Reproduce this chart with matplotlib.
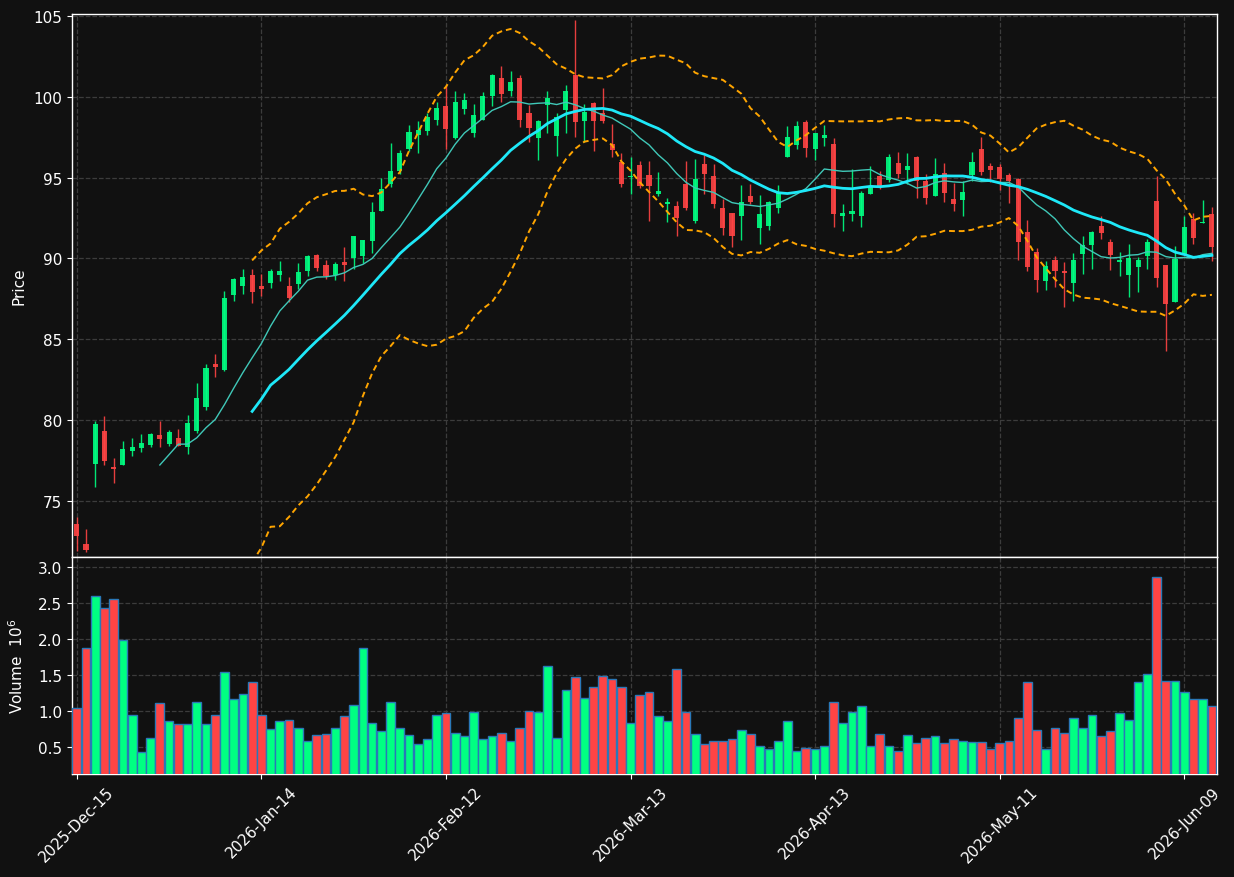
import matplotlib
matplotlib.use('Agg')
import matplotlib.pyplot as plt
import numpy as np
import pandas as pd

# ---------------- data ----------------
opens = [73.58, 72.35, 77.3, 79.34, 77.1, 77.25, 78.1, 78.29, 78.47, 79.09,
         78.53, 78.9, 78.36, 79.34, 80.84, 83.48, 83.11, 87.75, 88.32, 88.98,
         88.3, 88.51, 89.0, 88.3, 88.44, 89.23, 90.22, 89.6, 88.98, 89.79,
         90.03, 90.18, 91.1, 92.96, 94.61, 95.43, 96.78, 97.66, 97.91, 98.59,
         99.43, 97.45, 99.25, 97.76, 98.57, 100.05, 101.17, 100.38, 101.17, 99.0,
         97.45, 99.5, 97.58, 99.19, 101.35, 98.51, 99.62, 99.0, 97.08, 95.97,
         95.05, 95.79, 95.17, 93.99, 93.4, 93.25, 94.61, 92.3, 95.85, 95.1,
         93.13, 92.8, 92.63, 93.87, 91.89, 92.01, 93.13, 96.28, 97.02, 98.44,
         96.77, 97.45, 97.08, 92.63, 92.76, 92.63, 93.99, 95.1, 94.86, 95.91,
         95.48, 96.28, 94.8, 93.87, 95.29, 93.68, 93.62, 95.17, 96.77, 95.72,
         95.66, 95.17, 94.92, 91.62, 90.41, 88.63, 89.91, 89.23, 88.51, 90.28,
         90.84, 92.01, 91.02, 89.79, 89.0, 89.5, 90.18, 93.56, 89.6, 87.33,
         90.28, 92.47, 92.2, 92.76]

closes = [72.86, 72.0, 79.77, 77.5, 77.0, 78.22, 78.35, 78.6, 79.15, 78.86,
          79.27, 78.43, 79.85, 81.38, 83.23, 83.31, 87.56, 88.74, 88.86, 87.95,
          88.1, 89.23, 89.23, 87.58, 89.19, 90.16, 89.44, 88.94, 89.66, 89.62,
          91.39, 91.15, 92.88, 94.32, 95.43, 96.55, 97.83, 97.95, 98.74, 99.29,
          98.01, 99.68, 99.8, 98.88, 100.05, 101.35, 100.18, 100.92, 98.57, 98.07,
          98.51, 99.93, 98.75, 100.36, 98.44, 99.06, 98.51, 98.51, 96.71, 94.61,
          95.12, 94.49, 94.49, 94.18, 93.45, 92.51, 93.11, 94.92, 95.23, 93.37,
          91.89, 91.39, 93.5, 93.5, 92.76, 93.5, 94.12, 97.52, 98.2, 96.84,
          97.76, 97.64, 92.76, 92.82, 92.94, 94.05, 94.49, 94.49, 96.28, 95.23,
          95.72, 94.78, 93.74, 95.23, 94.05, 93.37, 94.12, 95.97, 95.35, 95.48,
          94.92, 94.8, 91.04, 89.5, 88.7, 89.54, 89.25, 89.11, 89.91, 90.84,
          91.64, 91.58, 90.22, 89.91, 90.03, 89.91, 91.02, 88.82, 87.21, 89.97,
          91.95, 91.29, 92.26, 90.73]

highs = [74.0, 73.3, 79.95, 80.25, 77.65, 78.7, 78.9, 79.13, 79.23, 79.93,
         79.4, 79.46, 80.3, 82.28, 83.48, 84.1, 88.0, 88.8, 89.35, 89.35,
         89.05, 89.35, 89.83, 88.85, 89.7, 90.2, 90.25, 89.9, 89.8, 90.7,
         91.4, 91.16, 93.5, 95.0, 97.13, 96.7, 98.26, 98.52, 98.98, 99.66,
         100.7, 100.35, 100.26, 99.56, 100.28, 101.41, 101.9, 101.58, 101.35, 99.52,
         98.57, 100.38, 99.0, 100.71, 104.75, 99.56, 99.65, 100.55, 98.32, 96.5,
         96.3, 96.03, 96.03, 95.33, 93.74, 93.56, 96.03, 96.14, 96.4, 95.83,
         93.68, 92.82, 94.55, 94.61, 93.93, 93.58, 94.55, 98.2, 98.51, 98.57,
         97.78, 98.26, 97.45, 93.37, 95.54, 94.2, 95.72, 95.43, 96.47, 96.59,
         96.53, 96.34, 95.23, 96.22, 95.91, 94.67, 94.82, 96.59, 97.52, 95.91,
         95.85, 95.29, 94.95, 92.4, 90.65, 89.85, 90.16, 89.79, 90.34, 91.39,
         91.7, 92.63, 91.21, 90.41, 90.9, 90.08, 91.21, 95.1, 89.62, 90.76,
         92.63, 92.84, 93.62, 93.17]

lows = [71.9, 71.85, 75.85, 77.2, 76.1, 77.25, 77.8, 78.06, 78.36, 78.36,
        78.41, 78.4, 77.9, 79.2, 80.6, 82.7, 83.05, 87.4, 87.8, 87.23,
        87.65, 88.15, 88.6, 87.3, 88.1, 88.9, 89.2, 88.74, 88.7, 88.63,
        89.35, 89.7, 90.35, 92.95, 94.4, 95.2, 96.67, 96.53, 97.62, 98.24,
        96.77, 97.4, 98.94, 97.54, 98.55, 99.45, 99.66, 100.07, 98.12, 97.19,
        96.11, 97.76, 96.36, 97.76, 97.54, 97.2, 96.63, 98.38, 96.3, 94.4,
        93.97, 94.38, 92.3, 93.88, 92.24, 91.41, 93.0, 92.18, 93.99, 93.13,
        91.48, 90.73, 91.15, 93.37, 90.9, 91.77, 92.84, 96.28, 96.79, 96.3,
        96.09, 96.98, 91.93, 91.72, 92.34, 91.97, 93.98, 94.3, 94.73, 94.98,
        94.61, 93.73, 93.37, 93.85, 93.52, 92.96, 92.61, 94.8, 95.17, 94.73,
        94.24, 93.42, 89.9, 89.25, 87.95, 88.07, 88.22, 86.99, 87.39, 89.04,
        89.35, 91.21, 89.29, 88.94, 87.6, 87.91, 89.35, 88.26, 84.3, 87.3,
        90.25, 90.9, 92.18, 89.87]

volumes_m = [1.04, 1.88, 2.60, 2.43, 2.55, 1.98, 0.95, 0.43, 0.62, 1.11,
             0.86, 0.82, 0.82, 1.12, 0.82, 0.94, 1.54, 1.16, 1.23, 1.40,
             0.95, 0.745, 0.86, 0.87, 0.76, 0.59, 0.66, 0.68, 0.76, 0.93,
             1.09, 1.88, 0.83, 0.72, 1.13, 0.76, 0.66, 0.54, 0.61, 0.94,
             0.97, 0.69, 0.65, 0.98, 0.61, 0.65, 0.70, 0.58, 0.77, 1.0,
             0.98, 1.62, 0.63, 1.29, 1.47, 1.18, 1.34, 1.48, 1.45, 1.33,
             0.83, 1.22, 1.26, 0.93, 0.86, 1.59, 0.98, 0.68, 0.54, 0.59,
             0.58, 0.61, 0.73, 0.68, 0.51, 0.47, 0.58, 0.86, 0.44, 0.48,
             0.47, 0.51, 1.13, 0.83, 0.98, 1.07, 0.51, 0.68, 0.52, 0.44,
             0.66, 0.55, 0.62, 0.65, 0.55, 0.61, 0.59, 0.57, 0.57, 0.47,
             0.55, 0.58, 0.90, 1.40, 0.74, 0.47, 0.76, 0.69, 0.90, 0.76,
             0.95, 0.65, 0.72, 0.97, 0.88, 1.40, 1.51, 2.86, 1.41, 1.41,
             1.26, 1.16, 1.16, 1.07]

tick_positions = [0, 20, 40, 60, 80, 100, 120]
tick_labels = ['2025-Dec-15', '2026-Jan-14', '2026-Feb-12', '2026-Mar-13',
               '2026-Apr-13', '2026-May-11', '2026-Jun-09']

# ---------------- style ----------------
BG = '#111111'
UP = '#00ff82'
DOWN = '#ff4444'
GRID = '#3c3c3c'

W, H = 1234, 878
fig = plt.figure(figsize=(W / 100, H / 100), dpi=100, facecolor=BG)
L, R = 72, 1217
ax = fig.add_axes([L / W, 1 - 558 / H, (R - L) / W, (558 - 15) / H], facecolor=BG)
axv = fig.add_axes([L / W, 1 - 775 / H, (R - L) / W, (775 - 558) / H],
                   facecolor=BG, sharex=ax)

o = np.array(opens); c = np.array(closes)
hi = np.array(highs); lo = np.array(lows)
vol = np.array(volumes_m)
x = np.arange(len(c))
up = c >= o
colors = np.where(up, UP, DOWN)

# candles
ax.vlines(x, lo, hi, colors=colors, linewidth=1.0, alpha=0.9, zorder=3)
body_bottom = np.minimum(o, c)
body_h = np.maximum(np.abs(c - o), 0.07)
ax.bar(x, body_h, bottom=body_bottom, width=0.55, color=colors, alpha=0.9,
       linewidth=0, zorder=4)

# indicators computed from the closes
s = pd.Series(c)
ma10 = s.rolling(10).mean()
ma20 = s.rolling(20).mean()
sd20 = s.rolling(20).std(ddof=0)
ax.plot(x, ma10, color='#40c8b8', lw=1.0, zorder=5)
ax.plot(x, ma20, color='#1ee8f8', lw=2.0, zorder=5)
ax.plot(x, ma20 + 2 * sd20, color='#ffa500', lw=1.4, ls=(0, (3, 2)), zorder=5)
ax.plot(x, ma20 - 2 * sd20, color='#ffa500', lw=1.4, ls=(0, (3, 2)), zorder=5)

# volume
axv.bar(x, vol, width=0.95, color=colors, edgecolor='#2a78b8', linewidth=1.0,
        zorder=3)

# axes cosmetics
for a in (ax, axv):
    a.grid(True, color=GRID, linestyle='--', linewidth=0.9)
    a.set_axisbelow(True)
    for sp in a.spines.values():
        sp.set_color('white')
        sp.set_linewidth(1.0)
    a.tick_params(colors='white', labelsize=11)

ax.set_xlim(-0.52, 123.55)
ax.set_ylim(71.54, 105.12)
ax.set_yticks([75, 80, 85, 90, 95, 100, 105])
ax.set_ylabel('Price', color='white', fontsize=11)
ax.tick_params(axis='x', labelbottom=False, length=0)

axv.set_ylim(0.125, 3.139)
axv.set_yticks([0.5, 1.0, 1.5, 2.0, 2.5, 3.0])
axv.set_yticklabels(['%.1f' % v for v in [0.5, 1.0, 1.5, 2.0, 2.5, 3.0]])
axv.set_ylabel('Volume  $10^{6}$', color='white', fontsize=11)
axv.set_xticks(tick_positions)
axv.set_xticklabels(tick_labels, rotation=45, ha='center')

ax.yaxis.set_label_coords(-0.040, 0.5)
axv.yaxis.set_label_coords(-0.040, 0.5)

fig.savefig('out.png', dpi=100, facecolor=BG)
